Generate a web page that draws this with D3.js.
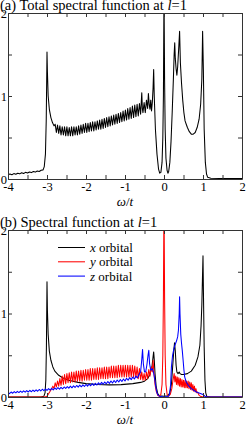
<!DOCTYPE html>
<html>
<head>
<meta charset="utf-8">
<script src="https://cdn.jsdelivr.net/npm/d3@7"></script>
<style>
  body { margin: 0; background: #fff; }
  svg, svg text { font-family: "Liberation Serif", "DejaVu Serif", serif; }
</style>
</head>
<body>
<div class="canvas"></div>
<script>
// x ticks / y ticks
const xTicks = [-4, -3.5, -3, -2.5, -2, -1.5, -1, -0.5, 0, 0.5, 1, 1.5, 2];
const yTicks = [0, 0.5, 1, 1.5, 2];

// (a) total spectral function, [omega, A]
const total = [
  [-4.00, 0.05], [-3.95, 0.06], [-3.90, 0.052], [-3.85, 0.065], [-3.80, 0.057], [-3.75, 0.07],
  [-3.70, 0.062], [-3.65, 0.075], [-3.60, 0.067], [-3.55, 0.08], [-3.50, 0.072], [-3.45, 0.085],
  [-3.40, 0.077], [-3.35, 0.09], [-3.30, 0.083], [-3.25, 0.097], [-3.20, 0.09], [-3.15, 0.105],
  [-3.10, 0.11], [-3.07, 0.15], [-3.04, 0.3], [-3.02, 0.7], [-3.01, 1.1], [-3.00, 1.53],
  [-2.99, 1.3], [-2.97, 1.0], [-2.94, 0.84], [-2.90, 0.74], [-2.86, 0.68], [-2.82, 0.64],
  [-2.79, 0.66], [-2.76, 0.56], [-2.73, 0.65], [-2.70, 0.55], [-2.67, 0.64], [-2.64, 0.53],
  [-2.61, 0.63], [-2.58, 0.53], [-2.55, 0.63], [-2.52, 0.52], [-2.49, 0.63], [-2.46, 0.52],
  [-2.43, 0.62], [-2.40, 0.52], [-2.37, 0.63], [-2.34, 0.52], [-2.31, 0.63], [-2.28, 0.53],
  [-2.25, 0.63], [-2.22, 0.53], [-2.19, 0.64], [-2.16, 0.54], [-2.13, 0.65], [-2.10, 0.55],
  [-2.07, 0.66], [-2.04, 0.56], [-2.01, 0.67], [-1.98, 0.56], [-1.95, 0.67], [-1.92, 0.57],
  [-1.89, 0.68], [-1.86, 0.58], [-1.83, 0.69], [-1.80, 0.58], [-1.77, 0.69], [-1.74, 0.59],
  [-1.71, 0.70], [-1.68, 0.60], [-1.65, 0.71], [-1.62, 0.60], [-1.59, 0.72], [-1.56, 0.61],
  [-1.53, 0.73], [-1.50, 0.62], [-1.47, 0.74], [-1.44, 0.63], [-1.41, 0.75], [-1.38, 0.64],
  [-1.35, 0.76], [-1.32, 0.65], [-1.29, 0.77], [-1.26, 0.66], [-1.23, 0.78], [-1.20, 0.67],
  [-1.17, 0.79], [-1.14, 0.68], [-1.11, 0.80], [-1.08, 0.69], [-1.05, 0.82], [-1.02, 0.70],
  [-0.99, 0.83], [-0.96, 0.71], [-0.93, 0.85], [-0.90, 0.72], [-0.87, 0.86], [-0.84, 0.73],
  [-0.81, 0.88], [-0.78, 0.74], [-0.75, 0.89], [-0.72, 0.75], [-0.69, 0.90], [-0.66, 0.76],
  [-0.63, 0.91], [-0.60, 0.78], [-0.58, 0.95], [-0.57, 1.04], [-0.555, 0.85], [-0.54, 0.80],
  [-0.51, 0.92], [-0.48, 0.80], [-0.45, 0.95], [-0.42, 0.85], [-0.40, 1.03], [-0.38, 0.90],
  [-0.36, 0.84], [-0.34, 0.95], [-0.32, 0.82], [-0.30, 0.92], [-0.28, 1.1], [-0.265, 1.32],
  [-0.25, 1.0], [-0.22, 0.6], [-0.18, 0.3], [-0.14, 0.12], [-0.11, 0.07], [-0.08, 0.08],
  [-0.05, 0.2], [-0.03, 0.5], [-0.015, 1.0], [0.0, 2.3], [0.015, 1.2], [0.03, 0.6],
  [0.05, 0.25], [0.08, 0.1], [0.10, 0.07], [0.12, 0.09], [0.15, 0.2], [0.18, 0.45],
  [0.21, 0.8], [0.24, 1.2], [0.26, 1.5], [0.275, 1.64], [0.29, 1.45], [0.31, 1.33],
  [0.33, 1.25], [0.35, 1.35], [0.38, 1.6], [0.40, 1.78], [0.42, 1.4], [0.45, 1.15],
  [0.48, 0.95], [0.51, 0.8], [0.54, 0.7], [0.57, 0.66], [0.60, 0.62], [0.65, 0.57],
  [0.70, 0.54], [0.75, 0.54], [0.80, 0.56], [0.85, 0.62], [0.90, 0.72], [0.94, 0.9],
  [0.97, 1.2], [0.99, 1.78], [1.01, 1.3], [1.03, 0.6], [1.06, 0.2], [1.09, 0.06],
  [1.12, 0.02], [1.2, 0.01], [1.5, 0.005], [2.0, 0.005]
];

// (b) orbital-resolved, [omega, A]
const xOrb = [
  [-4, 0], [-3.15, 0], [-3.08, 0.01], [-3.05, 0.05], [-3.03, 0.2], [-3.015, 0.6], [-3.0, 1.38],
  [-2.99, 1.05], [-2.97, 0.75], [-2.94, 0.55], [-2.9, 0.44], [-2.85, 0.36], [-2.8, 0.31],
  [-2.7, 0.26], [-2.6, 0.23], [-2.45, 0.2], [-2.2, 0.175], [-2.0, 0.16], [-1.7, 0.15],
  [-1.4, 0.145], [-1.1, 0.148], [-0.8, 0.16], [-0.6, 0.175], [-0.5, 0.19], [-0.42, 0.22],
  [-0.36, 0.27], [-0.31, 0.36], [-0.28, 0.48], [-0.265, 0.54], [-0.25, 0.45], [-0.23, 0.28],
  [-0.2, 0.12], [-0.16, 0.04], [-0.12, 0.015], [0, 0.01], [0.1, 0.015], [0.15, 0.05],
  [0.19, 0.15], [0.22, 0.35], [0.25, 0.55], [0.27, 0.65], [0.29, 0.55], [0.31, 0.38],
  [0.33, 0.3], [0.36, 0.28], [0.39, 0.3], [0.41, 0.28], [0.45, 0.27], [0.5, 0.27],
  [0.6, 0.28], [0.7, 0.31], [0.8, 0.38], [0.87, 0.48], [0.92, 0.62], [0.95, 0.85],
  [0.97, 1.1], [0.99, 1.5], [1.0, 1.69], [1.01, 1.3], [1.03, 0.6], [1.05, 0.2],
  [1.07, 0.05], [1.1, 0.005], [1.2, 0], [2, 0]
];

const yOrb = [
  [-4.0, 0], [-3.05, 0], [-3.0, 0.01], [-2.96, 0.04], [-2.92, 0.07], [-2.88, 0.1],
  [-2.85, 0.13], [-2.82, 0.1], [-2.79, 0.17], [-2.76, 0.12], [-2.73, 0.19], [-2.70, 0.13],
  [-2.67, 0.22], [-2.64, 0.14], [-2.61, 0.25], [-2.58, 0.15], [-2.55, 0.27], [-2.52, 0.16],
  [-2.49, 0.28], [-2.46, 0.17], [-2.43, 0.29], [-2.40, 0.17], [-2.37, 0.3], [-2.34, 0.18],
  [-2.31, 0.3], [-2.28, 0.18], [-2.25, 0.31], [-2.22, 0.19], [-2.19, 0.31], [-2.16, 0.19],
  [-2.13, 0.32], [-2.10, 0.19], [-2.07, 0.32], [-2.04, 0.2], [-2.01, 0.33], [-1.98, 0.2],
  [-1.95, 0.33], [-1.92, 0.2], [-1.89, 0.34], [-1.86, 0.2], [-1.83, 0.34], [-1.80, 0.21],
  [-1.77, 0.34], [-1.74, 0.21], [-1.71, 0.35], [-1.68, 0.21], [-1.65, 0.35], [-1.62, 0.22],
  [-1.59, 0.35], [-1.56, 0.22], [-1.53, 0.36], [-1.50, 0.22], [-1.47, 0.36], [-1.44, 0.22],
  [-1.41, 0.36], [-1.38, 0.23], [-1.35, 0.37], [-1.32, 0.23], [-1.29, 0.37], [-1.26, 0.23],
  [-1.23, 0.37], [-1.20, 0.23], [-1.17, 0.38], [-1.14, 0.24], [-1.11, 0.38], [-1.08, 0.24],
  [-1.05, 0.38], [-1.02, 0.24], [-0.99, 0.38], [-0.96, 0.24], [-0.93, 0.38], [-0.90, 0.24],
  [-0.87, 0.38], [-0.84, 0.24], [-0.81, 0.38], [-0.78, 0.24], [-0.75, 0.37], [-0.72, 0.23],
  [-0.69, 0.36], [-0.66, 0.22], [-0.63, 0.34], [-0.60, 0.21], [-0.57, 0.3], [-0.54, 0.2],
  [-0.51, 0.28], [-0.48, 0.2], [-0.45, 0.3], [-0.42, 0.22], [-0.39, 0.33], [-0.36, 0.25],
  [-0.33, 0.36], [-0.30, 0.3], [-0.28, 0.44], [-0.26, 0.3], [-0.23, 0.15], [-0.20, 0.07],
  [-0.16, 0.02], [-0.12, 0.01], [-0.08, 0.03], [-0.05, 0.15], [-0.03, 0.5], [-0.015, 1.2],
  [0.0, 2.4], [0.015, 1.2], [0.03, 0.5], [0.05, 0.15], [0.08, 0.03], [0.12, 0.01],
  [0.16, 0.03], [0.2, 0.1], [0.23, 0.2], [0.26, 0.28], [0.28, 0.18], [0.30, 0.25],
  [0.32, 0.15], [0.34, 0.24], [0.36, 0.14], [0.38, 0.23], [0.40, 0.13], [0.42, 0.22],
  [0.44, 0.12], [0.46, 0.21], [0.48, 0.12], [0.50, 0.2], [0.52, 0.11], [0.54, 0.2],
  [0.56, 0.11], [0.58, 0.19], [0.60, 0.11], [0.62, 0.19], [0.64, 0.1], [0.66, 0.18],
  [0.68, 0.09], [0.70, 0.17], [0.72, 0.08], [0.74, 0.15], [0.76, 0.07], [0.78, 0.13],
  [0.80, 0.06], [0.82, 0.1], [0.84, 0.05], [0.86, 0.06], [0.90, 0.02], [0.95, 0.005],
  [1.0, 0], [2.0, 0]
];

const zOrb = [
  [-4.00, 0.055], [-3.96, 0.04], [-3.92, 0.06], [-3.88, 0.045], [-3.84, 0.065], [-3.80, 0.05],
  [-3.76, 0.068], [-3.72, 0.053], [-3.68, 0.07], [-3.64, 0.055], [-3.60, 0.073], [-3.56, 0.058],
  [-3.52, 0.076], [-3.48, 0.06], [-3.44, 0.08], [-3.40, 0.063], [-3.36, 0.083], [-3.32, 0.066],
  [-3.28, 0.086], [-3.24, 0.069], [-3.20, 0.09], [-3.16, 0.072], [-3.12, 0.093], [-3.08, 0.075],
  [-3.04, 0.096], [-3.00, 0.078], [-2.96, 0.1], [-2.92, 0.082], [-2.88, 0.104], [-2.84, 0.086],
  [-2.80, 0.108], [-2.76, 0.09], [-2.72, 0.112], [-2.68, 0.094], [-2.64, 0.116], [-2.60, 0.098],
  [-2.56, 0.12], [-2.52, 0.102], [-2.48, 0.125], [-2.44, 0.106], [-2.40, 0.13], [-2.36, 0.11],
  [-2.32, 0.134], [-2.28, 0.114], [-2.24, 0.138], [-2.20, 0.118], [-2.16, 0.142], [-2.12, 0.122],
  [-2.08, 0.146], [-2.04, 0.126], [-2.00, 0.15], [-1.96, 0.13], [-1.92, 0.155], [-1.88, 0.134],
  [-1.84, 0.16], [-1.80, 0.138], [-1.76, 0.165], [-1.72, 0.143], [-1.68, 0.17], [-1.64, 0.148],
  [-1.60, 0.175], [-1.56, 0.153], [-1.52, 0.18], [-1.48, 0.158], [-1.44, 0.186], [-1.40, 0.163],
  [-1.36, 0.192], [-1.32, 0.168], [-1.28, 0.198], [-1.24, 0.174], [-1.20, 0.204], [-1.16, 0.18],
  [-1.12, 0.21], [-1.08, 0.186], [-1.04, 0.216], [-1.00, 0.192], [-0.96, 0.224], [-0.92, 0.2],
  [-0.88, 0.232], [-0.84, 0.208], [-0.80, 0.24], [-0.76, 0.216], [-0.72, 0.25], [-0.68, 0.228],
  [-0.64, 0.27], [-0.60, 0.3], [-0.57, 0.45], [-0.55, 0.57], [-0.53, 0.4], [-0.50, 0.3],
  [-0.47, 0.3], [-0.44, 0.38], [-0.41, 0.5], [-0.39, 0.56], [-0.37, 0.4], [-0.34, 0.32],
  [-0.30, 0.34], [-0.27, 0.3], [-0.24, 0.22], [-0.21, 0.12], [-0.18, 0.05], [-0.15, 0.02],
  [-0.10, 0.005], [0.00, 0.0], [0.10, 0.005], [0.14, 0.03], [0.17, 0.15], [0.19, 0.36],
  [0.22, 0.5], [0.25, 0.57], [0.28, 0.62], [0.32, 0.67], [0.35, 0.72], [0.37, 0.8],
  [0.39, 1.0], [0.40, 1.2], [0.41, 1.0], [0.43, 0.75], [0.45, 0.64], [0.47, 0.55],
  [0.49, 0.44], [0.51, 0.33], [0.53, 0.24], [0.57, 0.18], [0.62, 0.14], [0.70, 0.1],
  [0.83, 0.06], [0.95, 0.04], [1.00, 0.03], [1.05, 0.01], [1.10, 0.0], [2.00, 0.0]
];

const legendNames = ['x', 'y', 'z'];
const legendColors = ['#000000', '#ff0000', '#0000ff'];

const width = 246, height = 428;
const left = 8, right = 242;
const serif = '"Liberation Serif", "Times New Roman", "DejaVu Serif", serif';

const svg = d3.select('.canvas')
  .append('svg')
  .attr('width', width)
  .attr('height', height)
  .attr('font-family', serif);

const xScale = d3.scaleLinear().domain([-4, 2]).range([left, right]);
const fmt = d => Number.isInteger(d) ? String(d) : '';

function panel(id, top, bottom, title, series, colors) {
  const yScale = d3.scaleLinear().domain([0, 2]).range([bottom, top]);

  svg.append('clipPath').attr('id', 'clip-' + id)
    .append('rect')
    .attr('x', left).attr('y', top)
    .attr('width', right - left).attr('height', bottom - top);

  const line = d3.line().x(d => xScale(d[0])).y(d => yScale(d[1]));
  const g = svg.append('g').attr('clip-path', `url(#clip-${id})`);
  series.forEach((s, i) => {
    g.append('path')
      .datum(s)
      .attr('fill', 'none')
      .attr('stroke', colors[i])
      .attr('stroke-width', 1.05)
      .attr('stroke-linejoin', 'round')
      .attr('d', line);
  });

  // axes, ticks pointing inward
  const axes = svg.append('g');
  axes.append('g')
    .attr('transform', `translate(0,${bottom})`)
    .call(d3.axisBottom(xScale).tickValues(xTicks).tickFormat(fmt).tickSizeInner(-4).tickSizeOuter(0).tickPadding(3));
  axes.append('g')
    .attr('transform', `translate(0,${top})`)
    .call(d3.axisTop(xScale).tickValues(xTicks).tickFormat('').tickSizeInner(-4).tickSizeOuter(0));
  axes.append('g')
    .attr('transform', `translate(${left},0)`)
    .call(d3.axisLeft(yScale).tickValues(yTicks).tickFormat(fmt).tickSizeInner(-4).tickSizeOuter(0).tickPadding(1));
  axes.append('g')
    .attr('transform', `translate(${right},0)`)
    .call(d3.axisRight(yScale).tickValues(yTicks).tickFormat('').tickSizeInner(-4).tickSizeOuter(0));

  axes.selectAll('g').attr('font-family', serif).attr('font-size', 12.5);
  axes.selectAll('.domain').attr('stroke', '#333');
  axes.selectAll('.tick line').attr('stroke', '#333');

  // title
  const t = svg.append('text')
    .attr('x', 0).attr('y', top - 3)
    .attr('font-size', 14.5);
  t.append('tspan').text(title);
  t.append('tspan').attr('font-style', 'italic').text('l');
  t.append('tspan').text('=1');

  // x label
  const xl = svg.append('text')
    .attr('x', (left + right) / 2).attr('y', bottom + 27)
    .attr('text-anchor', 'middle')
    .attr('font-size', 13);
  xl.append('tspan').attr('font-style', 'italic').text('ω');
  xl.append('tspan').text('/');
  xl.append('tspan').attr('font-style', 'italic').text('t');

  return yScale;
}

panel('a', 13, 179, '(a) Total spectral function at ', [total], ['#000']);
panel('b', 230, 397, '(b) Spectral function at ', [xOrb, yOrb, zOrb], legendColors);

// legend
const legend = svg.append('g').attr('transform', 'translate(58,247.5)');
legendNames.forEach((n, i) => {
  const row = legend.append('g').attr('transform', `translate(0,${i * 14.3})`);
  row.append('line').attr('x1', 0).attr('x2', 27).attr('y1', 0).attr('y2', 0)
    .attr('stroke', legendColors[i]).attr('stroke-width', 1.05);
  const tx = row.append('text').attr('x', 32).attr('y', 4.5).attr('font-size', 13);
  tx.append('tspan').attr('font-style', 'italic').text(n);
  tx.append('tspan').text(' orbital');
});
</script>
</body>
</html>
